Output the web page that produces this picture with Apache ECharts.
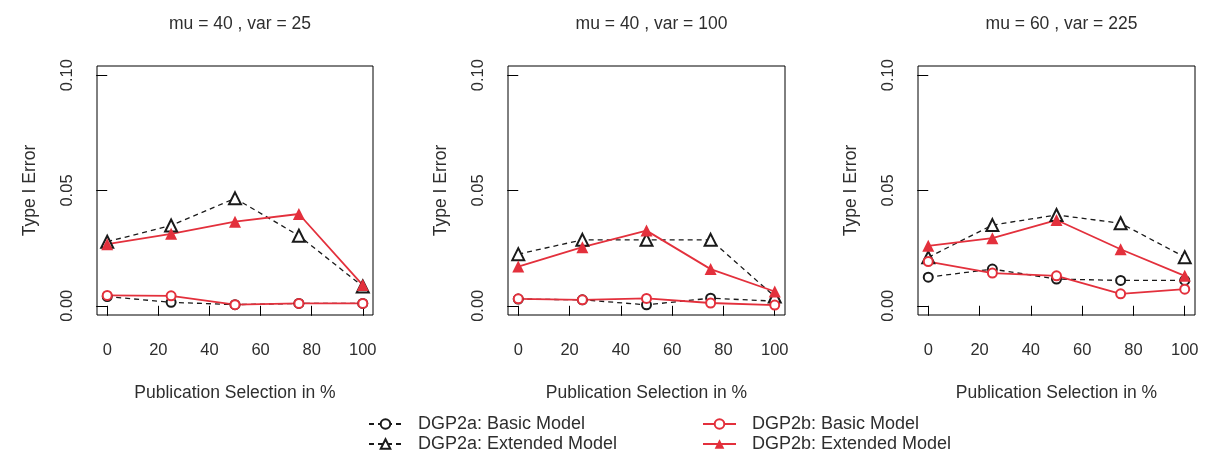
<!DOCTYPE html>
<html>
<head>
<meta charset="utf-8">
<script src="https://cdn.jsdelivr.net/npm/echarts@6/dist/echarts.min.js"></script>
<style>
  html, body { margin: 0; padding: 0; background: #fff; }
  #chart { width: 1206px; height: 454px; }
</style>
</head>
<body>
<div id="chart"></div>
<script>
// Publication selection share (%) on the x axis
const selection = [0, 25, 50, 75, 100];
const xTicks = [0, 20, 40, 60, 80, 100];
const yTicks = [0, 0.05, 0.10];

const panelTitles = ['mu = 40 , var = 25', 'mu = 40 , var = 100', 'mu = 60 , var = 225'];

// Type I error rates, one row per panel
const dgp2aBasic = [
  [0.0040, 0.0015, 0.0005, 0.0010, 0.0010],
  [0.0029, 0.0026, 0.0004, 0.0033, 0.0020],
  [0.0124, 0.0159, 0.0116, 0.0110, 0.0110]
];
const dgp2aExtended = [
  [0.0278, 0.0348, 0.0466, 0.0304, 0.0084],
  [0.0224, 0.0286, 0.0286, 0.0286, 0.0040],
  [0.0210, 0.0350, 0.0394, 0.0358, 0.0211]
];
const dgp2bBasic = [
  [0.0045, 0.0043, 0.0005, 0.0010, 0.0010],
  [0.0030, 0.0026, 0.0032, 0.0012, 0.0003],
  [0.0192, 0.0142, 0.0130, 0.0052, 0.0072]
];
const dgp2bExtended = [
  [0.0267, 0.0312, 0.0365, 0.0398, 0.0090],
  [0.0170, 0.0254, 0.0326, 0.0159, 0.0062],
  [0.0260, 0.0293, 0.0372, 0.0245, 0.0130]
];

const names = ['DGP2a: Basic Model', 'DGP2a: Extended Model', 'DGP2b: Basic Model', 'DGP2b: Extended Model'];

const FONT = '"Liberation Sans", Arial, sans-serif';
const TEXT = '#2e2e2e';
const BLACK = '#1a1a1a';
const RED = '#e3303c';

const gridLeft = [97, 508, 918];
const gridWidth = [276, 277, 277];
const gridTop = 66, gridHeight = 249;

const pairs = vals => selection.map((x, i) => [x, vals[i]]);

const grids = [], xAxes = [], yAxes = [], titles = [], series = [];

for (let p = 0; p < 3; p++) {
  grids.push({
    left: gridLeft[p], top: gridTop, width: gridWidth[p], height: gridHeight,
    show: true, borderColor: '#000', borderWidth: 1, backgroundColor: 'transparent'
  });
  xAxes.push({
    gridIndex: p, type: 'value', min: -4, max: 104,
    axisLine: { show: false },
    splitLine: { show: false },
    axisTick: { show: true, length: 10, customValues: xTicks, lineStyle: { color: '#000', width: 1 } },
    axisLabel: { customValues: xTicks, margin: 27, fontSize: 16.5, color: TEXT, fontFamily: FONT },
    name: 'Publication Selection in %', nameLocation: 'middle', nameGap: 69,
    nameTextStyle: { fontSize: 17.5, color: TEXT, fontFamily: FONT }
  });
  yAxes.push({
    gridIndex: p, type: 'value', min: -0.004, max: 0.104,
    axisLine: { show: false },
    splitLine: { show: false },
    axisTick: { show: true, length: 11, customValues: yTicks, lineStyle: { color: '#000', width: 1 } },
    axisLabel: {
      customValues: yTicks, rotate: 90, margin: 21, fontSize: 16.5, color: TEXT, fontFamily: FONT,
      formatter: v => v.toFixed(2)
    },
    name: 'Type I Error', nameLocation: 'middle', nameRotate: 90, nameGap: 58,
    nameTextStyle: { fontSize: 17.5, color: TEXT, fontFamily: FONT }
  });
  titles.push({
    text: panelTitles[p],
    left: gridLeft[p] + gridWidth[p] / 2, top: 10, textAlign: 'center',
    textStyle: { fontSize: 17.5, fontWeight: 'normal', color: TEXT, fontFamily: FONT }
  });

  const common = { xAxisIndex: p, yAxisIndex: p, type: 'line', silent: true, animation: false };
  series.push({
    ...common, name: names[0], data: pairs(dgp2aBasic[p]),
    symbol: 'emptyCircle', symbolSize: 9,
    lineStyle: { color: BLACK, width: 1.3, type: [5, 4] },
    itemStyle: { color: BLACK, borderWidth: 1.3 }
  });
  series.push({
    ...common, name: names[1], data: pairs(dgp2aExtended[p]),
    symbol: 'emptyTriangle', symbolSize: 12,
    lineStyle: { color: BLACK, width: 1.3, type: [5, 4] },
    itemStyle: { color: BLACK, borderWidth: 1.4 }
  });
  series.push({
    ...common, name: names[2], data: pairs(dgp2bBasic[p]),
    symbol: 'emptyCircle', symbolSize: 9,
    lineStyle: { color: RED, width: 1.8 },
    itemStyle: { color: RED, borderWidth: 1.5 }
  });
  series.push({
    ...common, name: names[3], data: pairs(dgp2bExtended[p]),
    symbol: 'triangle', symbolSize: 12,
    lineStyle: { color: RED, width: 1.8 },
    itemStyle: { color: RED }
  });
}

const legendBase = {
  orient: 'vertical', itemWidth: 33, itemHeight: 12, itemGap: 2, padding: 0,
  height: 40, selectedMode: false,
  textStyle: { fontSize: 18, lineHeight: 17, color: TEXT, fontFamily: FONT, padding: [0, 0, 0, 11] }
};

const chart = echarts.init(document.getElementById('chart'), null, { renderer: 'canvas' });
chart.setOption({
  animation: false,
  backgroundColor: '#fff',
  title: titles,
  grid: grids,
  xAxis: xAxes,
  yAxis: yAxes,
  legend: [
    { ...legendBase, data: [names[0], names[1]], left: 368, top: 415 },
    { ...legendBase, data: [names[2], names[3]], left: 702, top: 415 }
  ],
  series: series
});
</script>
</body>
</html>
